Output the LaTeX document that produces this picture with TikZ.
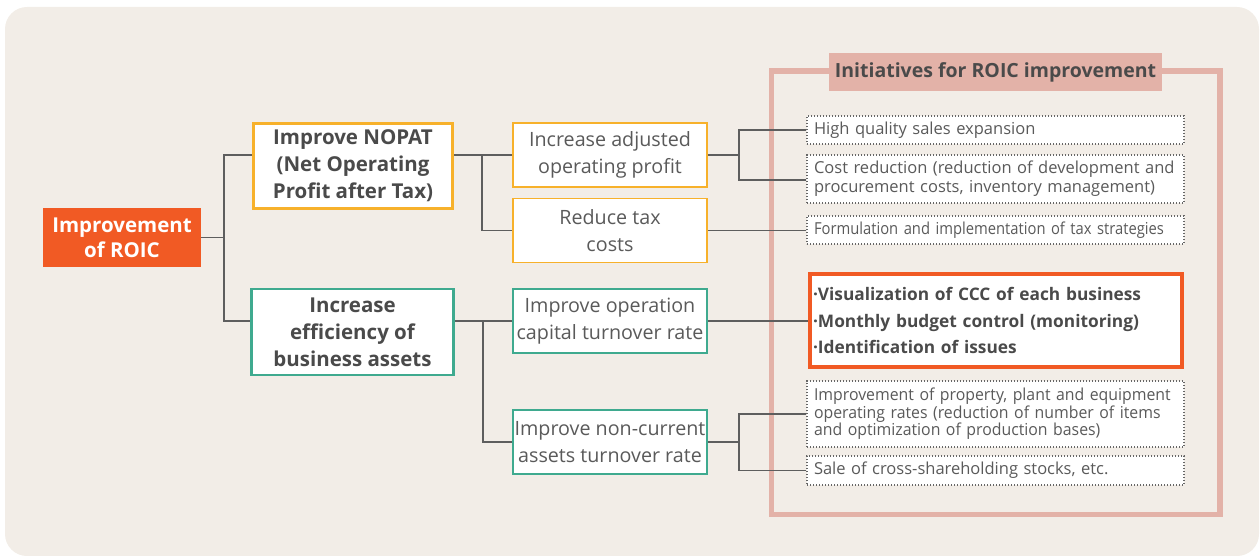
\documentclass[tikz,border=0pt]{standalone}
\usepackage{fontspec}
\setmainfont{Open Sans}
\newfontfamily\tighter[FakeStretch=0.895]{Open Sans}
\newfontfamily\snug[FakeStretch=0.96]{Open Sans}
\definecolor{bgbeige}{HTML}{F2EDE7}
\definecolor{roicorange}{HTML}{F15A24}
\definecolor{amber}{HTML}{F7B12B}
\definecolor{teal}{HTML}{3FAA8F}
\definecolor{rose}{HTML}{E3B2A8}
\definecolor{inkbold}{HTML}{4A4A4A}
\definecolor{inklight}{HTML}{5A5A5A}
\definecolor{wire}{HTML}{5E5E5E}
\definecolor{dots}{HTML}{666666}
\hyphenpenalty=10000
\exhyphenpenalty=10000
\begin{document}
\begin{tikzpicture}[x=1pt,y=-1pt,
  conn/.style={draw=wire,line width=1.4pt},
  rootbox/.style={fill=roicorange,text=white,font=\fontsize{20.5}{25}\selectfont\bfseries,
    align=center,inner sep=0pt,minimum width=158pt,minimum height=59pt},
  levelone/.style={fill=white,line width=2.6pt,text=inkbold,
    font=\fontsize{20.5}{27}\selectfont\bfseries,align=center,inner sep=0pt},
  leveltwo/.style={fill=white,line width=1.8pt,text=inklight,
    font=\fontsize{19.7}{26.5}\selectfont,align=center,inner sep=0pt,
    minimum width=194pt,minimum height=64pt},
  dotbox/.style={fill=white,draw=dots,line width=1.2pt,dash pattern=on 1.4pt off 1.6pt,
    text=inklight,font=\fontsize{16.5}{19}\selectfont,align=left,
    text width=363pt,inner xsep=7pt,inner ysep=0pt},
  cccbox/.style={fill=white,draw=roicorange,line width=3.6pt,text=inkbold,
    font=\fontsize{17.3}{26.5}\selectfont\bfseries,align=left,
    text width=366pt,inner xsep=3pt,inner ysep=0pt,minimum height=93pt},
  frame/.style={draw=rose,line width=5.5pt},
  titlebox/.style={fill=rose,text=inkbold,font=\fontsize{19.5}{22}\selectfont\bfseries,
    inner sep=0pt,minimum width=333pt,minimum height=38pt}
]
\useasboundingbox (0,0) rectangle (1260,556);
\fill[bgbeige,rounded corners=22pt] (5,7) rectangle (1259,556);

% initiatives frame and its heading
\draw[frame] (771.5,71) rectangle (1220,514.5);
\node[titlebox] (title) at (995.5,72) {Initiatives for ROIC improvement};

% tree of measures
\node[rootbox] (root) at (122,237.5) {Improvement\\of ROIC};
\node[levelone,draw=amber,minimum width=199.5pt,minimum height=85.5pt] (nopat) at (353,166)
  {Improve NOPAT\\(Net Operating\\Profit after Tax)};
\node[levelone,draw=teal,minimum width=202pt,minimum height=86pt] (eff) at (352.5,332)
  {Increase\\efficiency of\\business assets};
\node[leveltwo,draw=amber] (inc) at (610,155) {Increase adjusted\\operating profit};
\node[leveltwo,draw=amber] (tax) at (610,230.5) {Reduce tax\\costs};
\node[leveltwo,draw=teal] (op) at (610,321) {Improve operation\\capital turnover rate};
\node[leveltwo,draw=teal] (nc) at (610,442) {Improve non-current\\assets turnover rate};

% initiatives
\node[dotbox,minimum height=28pt] (b1) at (995.5,130) {High quality sales expansion};
\node[dotbox,minimum height=48pt] (b2) at (995.5,179)
  {Cost reduction (reduction of development and\\procurement costs, inventory management)};
\node[dotbox,minimum height=28pt,font=\tighter\fontsize{16.5}{19}\selectfont] (b3) at (995.5,230)
  {Formulation and implementation of tax strategies};
\node[cccbox] (ccc) at (996,320.5)
  {·Visualization of CCC of each business\\·Monthly budget control (monitoring)\\·Identification of issues};
\node[dotbox,minimum height=66pt,font=\snug\fontsize{16.5}{17.5}\selectfont] (b4) at (995.5,414)
  {Improvement of property, plant and equipment\\operating rates (reduction of number of items\\and optimization of production bases)};
\node[dotbox,minimum height=29pt] (b5) at (995.5,470.5) {Sale of cross-shareholding stocks, etc.};

% connectors
\coordinate (j1) at (224,237.5);
\coordinate (j2) at (482,155);
\coordinate (j3) at (483,321);
\coordinate (j4) at (739,155);
\coordinate (j5) at (739,442);
\draw[conn] (root.east) -- (j1);
\draw[conn] ([yshift=11pt]nopat.west) -| (j1) |- ([yshift=11pt]eff.west);
\draw[conn] ([yshift=11pt]nopat.east) -- (inc.west);
\draw[conn] (j2) |- (tax.west);
\draw[conn] ([yshift=11pt]eff.east) -- (op.west);
\draw[conn] (j3) |- (nc.west);
\draw[conn] (inc.east) -- (j4);
\draw[conn] (b1.west) -| (j4) |- ([yshift=-1pt]b2.west);
\draw[conn] (tax.east) -- (tax.east -| b3.west);
\draw[conn] (op.east) -- (op.east -| ccc.west);
\draw[conn] (nc.east) -- (j5);
\draw[conn] (b4.west) -| (j5) |- (b5.west);
\end{tikzpicture}
\end{document}
